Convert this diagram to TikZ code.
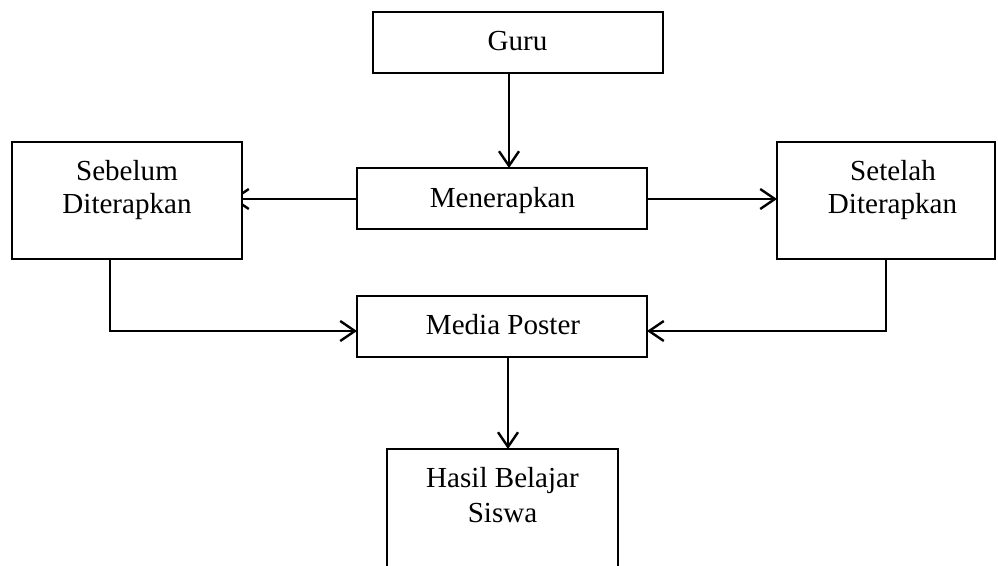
\documentclass[tikz,border=0pt]{standalone}
\usepackage{fontspec}
\setmainfont{Liberation Serif}
\usetikzlibrary{arrows.meta,backgrounds}
\begin{document}
\begin{tikzpicture}[x=0.75pt,y=-0.75pt,
  box/.style={draw,line width=1.9pt,fill=white,inner sep=0pt,outer sep=0pt},
  txt/.style={anchor=base,inner sep=0pt,font=\fontsize{21.8}{24}\selectfont},
  arr/.style={line width=1.8pt,-{Straight Barb[length=11pt,width=15pt,line width=1.8pt]}},
  conn/.style={line width=1.8pt}]
\useasboundingbox (0,0) rectangle (998,565);
% boxes
\node[box,minimum width=217.5pt,minimum height=45.75pt] (guru) at (518,42.5) {};
\node[box,minimum width=217.5pt,minimum height=45.75pt] (men) at (502,198.5) {};
\node[box,minimum width=172.5pt,minimum height=87.75pt] (seb) at (127,200.5) {};
\node[box,minimum width=163.5pt,minimum height=87.75pt] (set) at (886,200.5) {};
\node[box,minimum width=217.5pt,minimum height=45.75pt] (media) at (502,326.5) {};
\node[box,minimum width=173.25pt,minimum height=88.5pt] (hasil) at (502.5,508) {};
% texts
\node[txt] (tguru) at (517.5,50) {Guru};
\node[txt] (tmen) at (502.5,207) {Menerapkan};
\node[txt] (tseb1) at (127,180) {Sebelum};
\node[txt] (tseb2) at (127,213) {Diterapkan};
\node[txt] (tset1) at (893,180) {Setelah};
\node[txt] (tset2) at (892.5,213) {Diterapkan};
\node[txt] (tmedia) at (503,334) {Media Poster};
\node[txt] (thasil1) at (502.5,487) {Hasil Belajar};
\node[txt] (thasil2) at (502.5,522) {Siswa};
% helper coordinates
\coordinate (xa) at (509,0);
\coordinate (xb) at (508,0);
\coordinate (ya) at (0,199);
\coordinate (yb) at (0,331);
\coordinate (xs) at (110,0);
\coordinate (xt) at (886,0);
\coordinate (sebin) at (232,199);
\begin{scope}[on background layer]
\draw[arr] (guru.south -| xa) -- (men.north -| xa);
\draw[arr] (men.west |- ya) -- (sebin);
\draw[arr] (men.east |- ya) -- (set.west |- ya);
\draw[arr] (seb.south -| xs) -- (xs |- yb) -- (media.west |- yb);
\draw[arr] (set.south -| xt) -- (xt |- yb) -- (media.east |- yb);
\draw[arr] (media.south -| xb) -- (hasil.north -| xb);
\end{scope}
\end{tikzpicture}
\end{document}
